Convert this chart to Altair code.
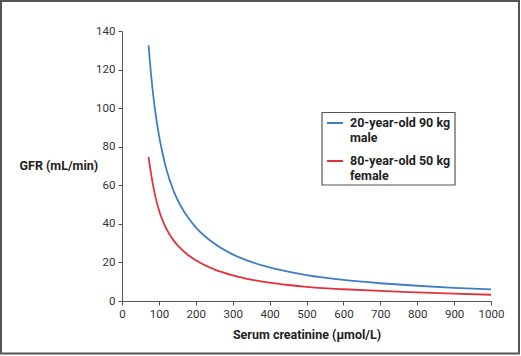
import altair as alt
import pandas as pd

creatinine = [72, 80, 90, 100, 110, 120, 140, 160, 180, 200, 250, 300, 350,
              400, 450, 500, 600, 700, 800, 900, 1000]
male_gfr = [132.6, 115, 98.5, 86, 76.5, 68.5, 57, 49, 43, 38.2, 29.8, 24.2, 20.3,
            17.4, 15.2, 13.4, 10.9, 9.2, 7.9, 6.8, 6.0]
female_gfr = [74.6, 64.5, 54.5, 47.2, 41.8, 37.5, 31.3, 27, 23.7, 21.1, 16.4, 13.3,
              11.1, 9.5, 8.3, 7.3, 6.1, 5.2, 4.5, 3.85, 3.25]
series_names = ["20-year-old 90 kg|male", "80-year-old 50 kg|female"]
series_colors = ["#3f7dc6", "#e2323b"]
x_ticks = [0, 100, 200, 300, 400, 500, 600, 700, 800, 900, 1000]
y_ticks = [0, 20, 40, 60, 80, 100, 120, 140]

rows = []
for c, m in zip(creatinine, male_gfr):
    rows.append({"creat": c, "gfr": m, "series": series_names[0]})
for c, f in zip(creatinine, female_gfr):
    rows.append({"creat": c, "gfr": f, "series": series_names[1]})
df = pd.DataFrame(rows)

W, H = 369, 270
FONT = "Roboto"

lines = alt.Chart(df).mark_line(strokeWidth=1.8, interpolate="monotone").encode(
    x=alt.X("creat:Q", scale=alt.Scale(domain=[0, 1000]),
            axis=alt.Axis(values=x_ticks, format="d", labelOverlap=False,
                          labelFlush=False,
                          title="Serum creatinine (\u00b5mol/L)",
                          titleY=33, titleBaseline="middle")),
    y=alt.Y("gfr:Q", scale=alt.Scale(domain=[0, 140]),
            axis=alt.Axis(values=y_ticks, title="GFR (mL/min)", titleAngle=0,
                          titleX=-103, titleY=134, titleAlign="left",
                          titleBaseline="middle")),
    color=alt.Color("series:N",
                    scale=alt.Scale(domain=series_names, range=series_colors),
                    legend=alt.Legend(title=None, orient="none", legendX=204, legendY=83,
                                      symbolType="stroke", symbolStrokeWidth=2,
                                      symbolSize=256, labelExpr="split(datum.label, '|')",
                                      labelFont=FONT, labelFontSize=12.5,
                                      labelFontWeight="bold", labelColor="#222",
                                      padding=0, rowPadding=8, labelOffset=6,
                                      labelLimit=300)),
)

# legend frame (decoration)
legend_box = alt.Chart(pd.DataFrame({"a": [0]})).mark_rect(
    fill="white", stroke="#555", strokeWidth=1.2
).encode(x=alt.value(200), x2=alt.value(333), y=alt.value(81.5), y2=alt.value(154))

# outer frame (decoration)
frame = alt.Chart(pd.DataFrame({"a": [0]})).mark_rect(
    filled=False, stroke="#555", strokeWidth=2
).encode(x=alt.value(-121), x2=alt.value(397), y=alt.value(-30), y2=alt.value(322.5))

chart = alt.layer(frame, lines, legend_box).properties(
    width=W, height=H,
    autosize=alt.AutoSizeParams(type="none"),
    padding={"left": 122, "top": 31, "right": 30, "bottom": 55},
    background="white",
).configure_view(stroke=None).configure_axis(
    grid=False, labelFont=FONT, labelFontSize=11.5, labelColor="#333",
    domainColor="#555", tickColor="#555", tickSize=4, labelPadding=3,
    titleFont=FONT, titleFontSize=12.5, titleFontWeight="bold", titleColor="#222",
)

chart.save("out.html", embed_options={"renderer": "svg", "actions": False})
